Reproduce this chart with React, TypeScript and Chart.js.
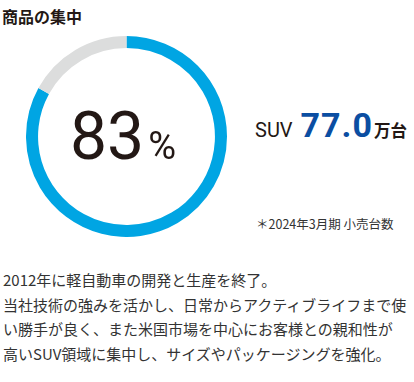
import React, { useEffect, useRef } from "react";
import { Chart, registerables } from "chart.js";

Chart.register(...registerables);

const categories = ["SUV", "その他"];
const shareValues = [83, 17];
const ringColors = ["#00A5E3", "#DCDDDD"];
const titleText = "商品の集中";
const percentText = "83";
const unitsLabel = "SUV";
const unitsValue = "77.0";
const unitsSuffix = "万台";
const noteText = "＊2024年3月期 小売台数";
const bodyLines = [
  "2012年に軽自動車の開発と生産を終了。",
  "当社技術の強みを活かし、日常からアクティブライフまで使",
  "い勝手が良く、また米国市場を中心にお客様との親和性が",
  "高いSUV領域に集中し、サイズやパッケージングを強化。",
];

const CJK = '"Noto Sans CJK JP", "Noto Sans", sans-serif';
const LATIN = 'Roboto, "Noto Sans CJK JP", sans-serif';

export default function App() {
  const canvasRef = useRef<HTMLCanvasElement | null>(null);

  useEffect(() => {
    const canvas = canvasRef.current;
    if (!canvas) return;
    const chart = new Chart(canvas, {
      type: "doughnut",
      data: {
        labels: categories,
        datasets: [
          {
            data: shareValues,
            backgroundColor: ringColors,
            borderWidth: 0,
          },
        ],
      },
      options: {
        responsive: false,
        maintainAspectRatio: false,
        animation: false,
        cutout: "88%",
        rotation: 0,
        layout: { padding: 0 },
        plugins: {
          legend: { display: false },
          tooltip: { enabled: false },
        },
      },
    });
    return () => chart.destroy();
  }, []);

  return (
    <div
      style={{
        position: "absolute",
        left: 0,
        top: 0,
        width: 414,
        height: 382,
        background: "#fff",
        overflow: "hidden",
        color: "#231815",
      }}
    >
      <div
        style={{
          position: "absolute",
          left: 2,
          top: 8,
          fontFamily: CJK,
          fontWeight: 700,
          fontSize: 16,
          lineHeight: "16px",
          whiteSpace: "nowrap",
        }}
      >
        {titleText}
      </div>

      <canvas
        ref={canvasRef}
        width={201}
        height={201}
        style={{ position: "absolute", left: 26, top: 36, width: 201, height: 201 }}
      />

      <div
        style={{
          position: "absolute",
          left: 70,
          top: 104,
          fontFamily: LATIN,
          fontSize: 66,
          lineHeight: "66px",
          whiteSpace: "nowrap",
          color: "#231815",
        }}
      >
        <span>{percentText}</span>
        <span style={{ fontSize: 38, lineHeight: 1, marginLeft: 4 }}>%</span>
      </div>

      <div
        style={{
          position: "absolute",
          left: 255,
          top: 108,
          fontFamily: LATIN,
          fontSize: 34,
          lineHeight: "34px",
          whiteSpace: "nowrap",
        }}
      >
        <span style={{ fontSize: 20, lineHeight: 1, color: "#231815" }}>{unitsLabel}</span>
        <span
          style={{
            fontSize: 34,
            lineHeight: 1,
            fontWeight: 700,
            color: "#0B4EA2",
            marginLeft: 8,
            letterSpacing: 1,
          }}
        >
          {unitsValue}
        </span>
        <span
          style={{
            fontFamily: CJK,
            fontSize: 16.5,
            lineHeight: 1,
            fontWeight: 700,
            color: "#231815",
            marginLeft: 1,
          }}
        >
          {unitsSuffix}
        </span>
      </div>

      <div
        style={{
          position: "absolute",
          left: 256,
          top: 216,
          fontFamily: CJK,
          fontSize: 12.5,
          lineHeight: "16px",
          whiteSpace: "nowrap",
          color: "#333",
        }}
      >
        {noteText}
      </div>

      <div
        style={{
          position: "absolute",
          left: 3,
          top: 268,
          fontFamily: CJK,
          fontSize: 15,
          lineHeight: "24.5px",
          color: "#333",
        }}
      >
        {bodyLines.map((line, i) => (
          <div key={i} style={{ whiteSpace: "nowrap" }}>
            {line}
          </div>
        ))}
      </div>
    </div>
  );
}
